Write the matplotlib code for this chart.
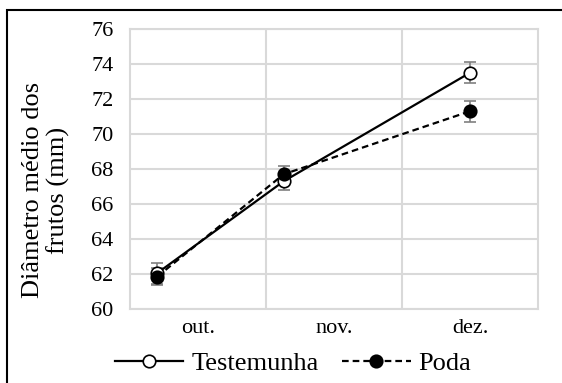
import matplotlib
matplotlib.use("Agg")
import matplotlib.pyplot as plt
from matplotlib.patches import Rectangle
from matplotlib.lines import Line2D

categories = ["out.", "nov.", "dez."]
x_pos = [0.2, 1.13, 2.5]
testemunha = [62.05, 67.3, 73.5]
testemunha_err = [0.6, 0.5, 0.6]
poda = [61.85, 67.7, 71.3]
poda_err = [0.5, 0.5, 0.6]
yticks = [60, 62, 64, 66, 68, 70, 72, 74, 76]

plt.rcParams['font.family'] = ['Liberation Serif', 'DejaVu Serif']

W, H = 562, 383
fig = plt.figure(figsize=(W / 100, H / 100), dpi=100)
ax = fig.add_axes([130 / W, 1 - 309 / H, (538 - 130) / W, (309 - 29) / H])

grid_c = "#d9d9d9"
ax.set_xlim(0, 3)
ax.set_ylim(60, 76)
ax.set_yticks(yticks)
ax.set_xticks([0.5, 1.5, 2.5])
ax.set_xticklabels(categories)
for v in [1, 2]:
    ax.axvline(v, color=grid_c, lw=1.5, zorder=0)
ax.yaxis.grid(True, color=grid_c, lw=1.5, zorder=0)
ax.set_axisbelow(True)
for s in ax.spines.values():
    s.set_color(grid_c)
    s.set_linewidth(1.5)
ax.tick_params(length=0, labelsize=16, colors="#000000")
ax.tick_params(axis="y", pad=12)
ax.tick_params(axis="x", pad=7)

ax.errorbar(x_pos, testemunha, yerr=testemunha_err, fmt="none", ecolor="#808080",
            elinewidth=1.2, capsize=4.5, capthick=1.2, zorder=2)
ax.errorbar(x_pos, poda, yerr=poda_err, fmt="none", ecolor="#808080",
            elinewidth=1.2, capsize=4.5, capthick=1.2, zorder=2)
ax.plot(x_pos, testemunha, color="black", lw=1.6, marker="o", ms=9,
        mfc="white", mec="black", mew=1.2, zorder=3)
ax.plot(x_pos, poda, color="black", lw=1.6, ls=(0, (3, 1.8)), marker="o", ms=9,
        mfc="black", mec="black", mew=1.2, zorder=4)

fig.text(46 / W, 1 - 190 / H, "Diâmetro médio dos\nfrutos (mm)", rotation=90,
         ha="center", va="center", fontsize=19, linespacing=1.15)

h1 = Line2D([], [], color="black", lw=1.6, marker="o", ms=9, mfc="white", mec="black", mew=1.2)
h2 = Line2D([], [], color="black", lw=1.6, ls=(0, (3, 1.8)), marker="o", ms=9, mfc="black", mec="black", mew=1.2)
fig.legend([h1, h2], ["Testemunha", "Poda"], loc="center", bbox_to_anchor=(293 / W, 1 - 363 / H),
           ncol=2, frameon=False, fontsize=19, handlelength=2.6, handletextpad=0.3,
           columnspacing=0.9, borderpad=0)

fig.patches.append(Rectangle((7 / W, -0.5), 2, 1.5 - 10 / H, transform=fig.transFigure,
                             fill=False, edgecolor="black", lw=1.5))

fig.savefig("out.png", dpi=100)
